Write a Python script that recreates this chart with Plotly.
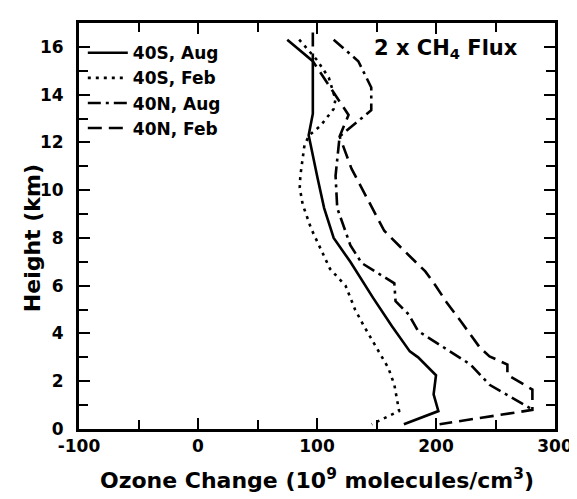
import plotly.graph_objects as go

# 40S, Aug (solid)
s_aug_x = [75, 96.5, 96.5, 93, 100.5, 106, 114, 128, 147, 163, 178, 185, 200, 198, 202, 173]
s_aug_y = [16.3, 15.4, 13.2, 12.3, 10.5, 9.25, 8.0, 7.0, 5.5, 4.3, 3.25, 3.0, 2.25, 1.45, 0.75, 0.2]

# 40S, Feb (dotted)
s_feb_x = [85, 100, 110, 115.5, 114, 103, 93.5, 89.5, 86, 85.5, 88, 95, 103, 111, 124, 132, 139, 152, 160, 165, 169, 146]
s_feb_y = [16.3, 15.45, 14.7, 13.8, 13.4, 12.7, 12.3, 11.9, 10.6, 10.1, 9.4, 8.4, 7.55, 6.7, 6.0, 5.0, 4.35, 3.25, 2.55, 1.85, 0.75, 0.2]

# 40N, Aug (dash-dot)
n_aug_x = [114, 134.7, 145.6, 145.6, 119, 115.6, 117, 128, 137.5, 158, 165, 166, 177, 185, 207, 229, 245, 264.5, 280]
n_aug_y = [16.3, 15.4, 14.3, 13.35, 12.25, 10.6, 9.25, 7.7, 6.95, 6.3, 6.1, 5.35, 4.8, 4.1, 3.4, 2.7, 1.85, 1.3, 0.85]

# 40N, Feb (dashed)
n_feb_x = [96.5, 96.5, 126.5, 119, 129, 144, 156.5, 171.5, 191, 199, 209, 221, 237, 245, 260, 260, 281, 281, 203]
n_feb_y = [16.6, 15.4, 13.15, 12.25, 10.9, 9.5, 8.3, 7.55, 6.6, 6.05, 5.3, 4.5, 3.4, 3.04, 2.7, 2.27, 1.65, 0.8, 0.2]

names = ["40S, Aug", "40S, Feb", "40N, Aug", "40N, Feb"]
dashes = ["solid", "3px,5px", "13px,5px,3px,5px", "14px,7px"]

x_tick_vals = [-100, 0, 100, 200, 300]
x_tick_text = ["-100", "0", "100", "200", "300"]

FONT = "DejaVu Sans"
fig = go.Figure()
for xs, ys, nm, ds in [(s_aug_x, s_aug_y, names[0], dashes[0]),
                       (s_feb_x, s_feb_y, names[1], dashes[1]),
                       (n_aug_x, n_aug_y, names[2], dashes[2]),
                       (n_feb_x, n_feb_y, names[3], dashes[3])]:
    fig.add_trace(go.Scatter(x=xs, y=ys, mode="lines", name=nm,
                             line=dict(color="black", width=2.6, dash=ds)))

axis_common = dict(showline=True, linecolor="black", linewidth=2.8, mirror="ticks",
                   ticks="inside", ticklen=11, tickwidth=2, tickcolor="black",
                   showgrid=False, zeroline=False,
                   tickfont=dict(family=FONT, size=17, color="black", weight="bold"))

fig.update_layout(
    width=577, height=499,
    margin=dict(l=71, r=18, t=15, b=78),
    paper_bgcolor="white", plot_bgcolor="white",
    showlegend=True,
    legend=dict(x=0.008, y=0.970, xanchor="left", yanchor="top",
                bgcolor="rgba(0,0,0,0)", itemwidth=40,
                font=dict(family=FONT, size=17, color="black", weight="bold")),
    xaxis=dict(range=[-100, 300], tickvals=x_tick_vals, ticktext=x_tick_text,
               minor=dict(dtick=50, ticks="inside", ticklen=9, tickwidth=2, tickcolor="black"),
               title=dict(text="Ozone Change (10<sup>9</sup> molecules/cm<sup>3</sup>)",
                          font=dict(family=FONT, size=22, color="black", weight="bold"),
                          standoff=18),
               **axis_common),
    yaxis=dict(range=[0, 17], dtick=2, ticklabelstandoff=9,
               minor=dict(dtick=1, ticks="inside", ticklen=9, tickwidth=2, tickcolor="black"),
               **axis_common),
    annotations=[
        dict(text="2 x CH<sub>4</sub> Flux", x=0.77, y=0.935,
             xref="paper", yref="paper", xanchor="center", yanchor="middle", showarrow=False,
             font=dict(family=FONT, size=21, color="black", weight="bold")),
        dict(text="Height (km)", x=0, y=0.47, xref="paper", yref="paper",
             xanchor="center", yanchor="middle", xshift=-47, textangle=-90, showarrow=False,
             font=dict(family=FONT, size=22, color="black", weight="bold")),
    ],
)

fig.write_html("out.html")
